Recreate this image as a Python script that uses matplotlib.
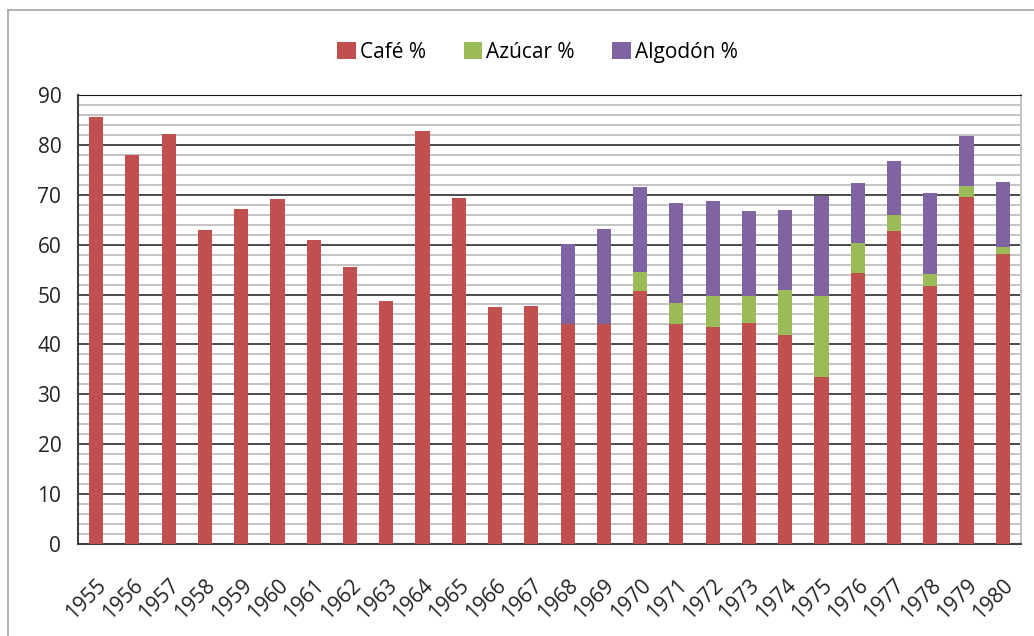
import numpy as np
import matplotlib.pyplot as plt
from matplotlib.lines import Line2D

plt.rcParams['font.family'] = ['Open Sans', 'DejaVu Sans']

years = [str(y) for y in range(1955, 1981)]

cafe = [85.5, 78.0, 82.1, 62.9, 67.1, 69.1, 60.9, 55.6, 48.8, 82.8, 69.3, 47.4, 47.6,
        44.0, 44.0, 50.8, 44.0, 43.5, 44.2, 41.9, 33.4, 54.4, 62.8, 51.8, 69.5, 58.1]
azucar = [0, 0, 0, 0, 0, 0, 0, 0, 0, 0, 0, 0, 0,
          0, 0, 3.7, 4.3, 6.2, 5.5, 9.0, 16.4, 6.0, 3.1, 2.4, 2.3, 1.4]
algodon = [0, 0, 0, 0, 0, 0, 0, 0, 0, 0, 0, 0, 0,
           16.1, 19.1, 17.1, 20.0, 19.0, 17.0, 16.0, 19.9, 12.0, 10.9, 16.2, 10.0, 13.1]

c_cafe = '#C0504D'
c_azucar = '#9BBB59'
c_algodon = '#8064A2'

fig = plt.figure(figsize=(10.34, 6.36), dpi=100)
ax = fig.add_axes([0.0754, 0.1447, 0.912, 0.706])

x = np.arange(len(years))
cafe = np.array(cafe)
azucar = np.array(azucar)
algodon = np.array(algodon)
w = 0.39

ax.bar(x, cafe, w, color=c_cafe, label='Café %', zorder=3)
ax.bar(x, azucar, w, bottom=cafe, color=c_azucar, label='Azúcar %', zorder=3)
ax.bar(x, algodon, w, bottom=cafe + azucar, color=c_algodon, label='Algodón %', zorder=3)

ax.set_xlim(-0.5, len(years) - 0.5)
ax.set_ylim(0, 90)

# gridlines: gray every 2, black every 10
for v in np.arange(2, 90, 2):
    if v % 10 != 0:
        ax.axhline(v, color='#c4c4c4', lw=1.4, zorder=1)
for v in range(10, 91, 10):
    ax.axhline(v, color='#1a1a1a', lw=1.1, zorder=2)

ax.set_yticks(range(0, 91, 10))
ax.set_xticks(x)
ax.set_xticklabels(years, rotation=45, ha='right', rotation_mode='anchor')
ax.tick_params(axis='both', length=0, labelsize=15, colors='#222222')
ax.tick_params(axis='y', pad=12)
ax.tick_params(axis='x', pad=22)

for s in ['left', 'bottom']:
    ax.spines[s].set_color('#404040')
    ax.spines[s].set_linewidth(1.5)
ax.spines['top'].set_color('#1a1a1a')
ax.spines['right'].set_color('#c4c4c4')
ax.spines['right'].set_linewidth(1.4)

fig.legend(loc='center', bbox_to_anchor=(0.52, 0.918), ncol=3, frameon=False,
           fontsize=15, handlelength=0.9, handleheight=0.9, handletextpad=0.2,
           columnspacing=1.8)

# outer chart frame (cropped on right and bottom)
fig.add_artist(Line2D([0.0077, 0.0077], [0, 0.984], color='#a6a6a6', lw=1.2,
                      transform=fig.transFigure))
fig.add_artist(Line2D([0.0077, 1], [0.984, 0.984], color='#a6a6a6', lw=1.2,
                      transform=fig.transFigure))

fig.savefig('out.png', dpi=100)
